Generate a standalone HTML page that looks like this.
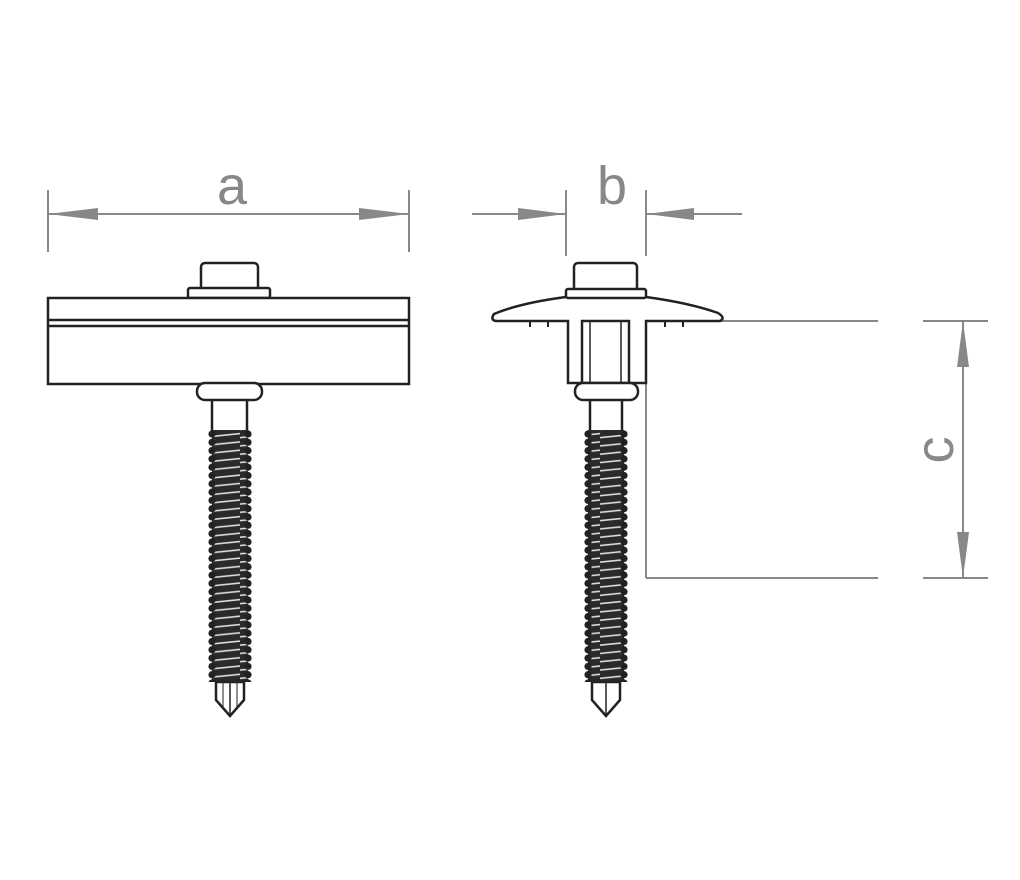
<!DOCTYPE html>
<html><head><style>html,body{margin:0;padding:0;background:#fff;}svg{display:block}</style></head>
<body>
<svg width="1020" height="880" viewBox="0 0 1020 880" xmlns="http://www.w3.org/2000/svg">
<defs>
<pattern id="thr" width="40" height="8.3" patternUnits="userSpaceOnUse">
<rect width="40" height="8.3" fill="#2a2a2a"/>
<line x1="0" y1="6" x2="40" y2="2" stroke="#ddd" stroke-width="1.6"/>
</pattern>
<pattern id="e1" x="207" y="430" width="10" height="8.3" patternUnits="userSpaceOnUse"><circle cx="5" cy="4" r="3.6" fill="#222"/></pattern>
<pattern id="e2" x="243" y="430" width="10" height="8.3" patternUnits="userSpaceOnUse"><circle cx="5" cy="4" r="3.6" fill="#222"/></pattern>
<pattern id="e3" x="583" y="430" width="10" height="8.3" patternUnits="userSpaceOnUse"><circle cx="5" cy="4" r="3.6" fill="#222"/></pattern>
<pattern id="e4" x="619" y="430" width="10" height="8.3" patternUnits="userSpaceOnUse"><circle cx="5" cy="4" r="3.6" fill="#222"/></pattern>
</defs>
<g fill="none" stroke="#888" stroke-width="2">
<line x1="48" y1="190" x2="48" y2="252"/>
<line x1="409" y1="190" x2="409" y2="252"/>
<line x1="48" y1="214" x2="409" y2="214"/>
<line x1="566" y1="190" x2="566" y2="256"/>
<line x1="646" y1="190" x2="646" y2="256"/>
<line x1="472" y1="214" x2="566" y2="214"/>
<line x1="646" y1="214" x2="742" y2="214"/>
<line x1="648" y1="321" x2="878" y2="321"/>
<line x1="646" y1="321" x2="646" y2="578"/>
<line x1="646" y1="578" x2="878" y2="578"/>
<line x1="923" y1="321" x2="988" y2="321"/>
<line x1="923" y1="578" x2="988" y2="578"/>
<line x1="963" y1="321" x2="963" y2="578"/>
</g>
<g fill="#888">
<polygon points="48,214 98,208 98,220"/>
<polygon points="409,214 359,208 359,220"/>
<polygon points="566,214 518,208 518,220"/>
<polygon points="646,214 694,208 694,220"/>
<polygon points="963,321 957,367 969,367"/>
<polygon points="963,578 957,532 969,532"/>
</g>
<g fill="#888" font-family="Liberation Sans, sans-serif" font-size="54">
<text x="232" y="204" text-anchor="middle">a</text>
<text x="612" y="204" text-anchor="middle">b</text>
<text x="0" y="0" text-anchor="middle" transform="translate(953,450) rotate(-90)">c</text>
</g>

<g stroke="#222" stroke-width="2.5" fill="#fff">
<rect x="201" y="263" width="57" height="28" rx="4"/>
<rect x="188" y="288" width="82" height="10" rx="2"/>
<rect x="48" y="298" width="361" height="86"/>
<line x1="48" y1="320" x2="409" y2="320"/>
<line x1="48" y1="326" x2="409" y2="326"/>
<rect x="212" y="398" width="35" height="34"/>
<rect x="197" y="383" width="65" height="17" rx="8"/>
<rect x="212" y="430" width="36" height="252" fill="url(#thr)" stroke="none"/>
<rect x="207" y="430" width="10" height="252" fill="url(#e1)" stroke="none"/>
<rect x="243" y="430" width="10" height="252" fill="url(#e2)" stroke="none"/>
<path d="M216,682 L216,700 L230,716 L244,700 L244,682 Z"/>
<line x1="230" y1="682" x2="230" y2="716" stroke-width="1.5"/>
<line x1="223" y1="682" x2="223" y2="708" stroke-width="1"/>
<line x1="237" y1="682" x2="237" y2="708" stroke-width="1"/>
</g>

<g stroke="#222" stroke-width="2.5" fill="#fff">
<rect x="574" y="263" width="63" height="29" rx="4"/>
<path d="M566,297 Q520,303 494,314 Q490,320 496,321 L568,321 L568,383 L646,383 L646,321 L720,321 Q726,318 718,313 Q690,303 646,297 Z"/>
<rect x="566" y="289" width="80" height="9" rx="2"/>
<rect x="582" y="321" width="47" height="62"/>
<line x1="590" y1="321" x2="590" y2="383" stroke-width="1.5"/>
<line x1="621" y1="321" x2="621" y2="383" stroke-width="1.5"/>
<rect x="590" y="398" width="32" height="34"/>
<rect x="575" y="383" width="63" height="17" rx="8"/>
<rect x="588" y="430" width="36" height="252" fill="url(#thr)" stroke="none"/>
<rect x="583" y="430" width="10" height="252" fill="url(#e3)" stroke="none"/>
<rect x="619" y="430" width="10" height="252" fill="url(#e4)" stroke="none"/>
<path d="M592,682 L592,700 L606,716 L620,700 L620,682 Z"/>
<line x1="606" y1="682" x2="606" y2="716" stroke-width="1.5"/>
</g>
<g stroke="#222" stroke-width="2">
<line x1="530" y1="322" x2="530" y2="327"/><line x1="548" y1="322" x2="548" y2="327"/>
<line x1="665" y1="322" x2="665" y2="327"/><line x1="683" y1="322" x2="683" y2="327"/>
</g>
</svg>
</body></html>
